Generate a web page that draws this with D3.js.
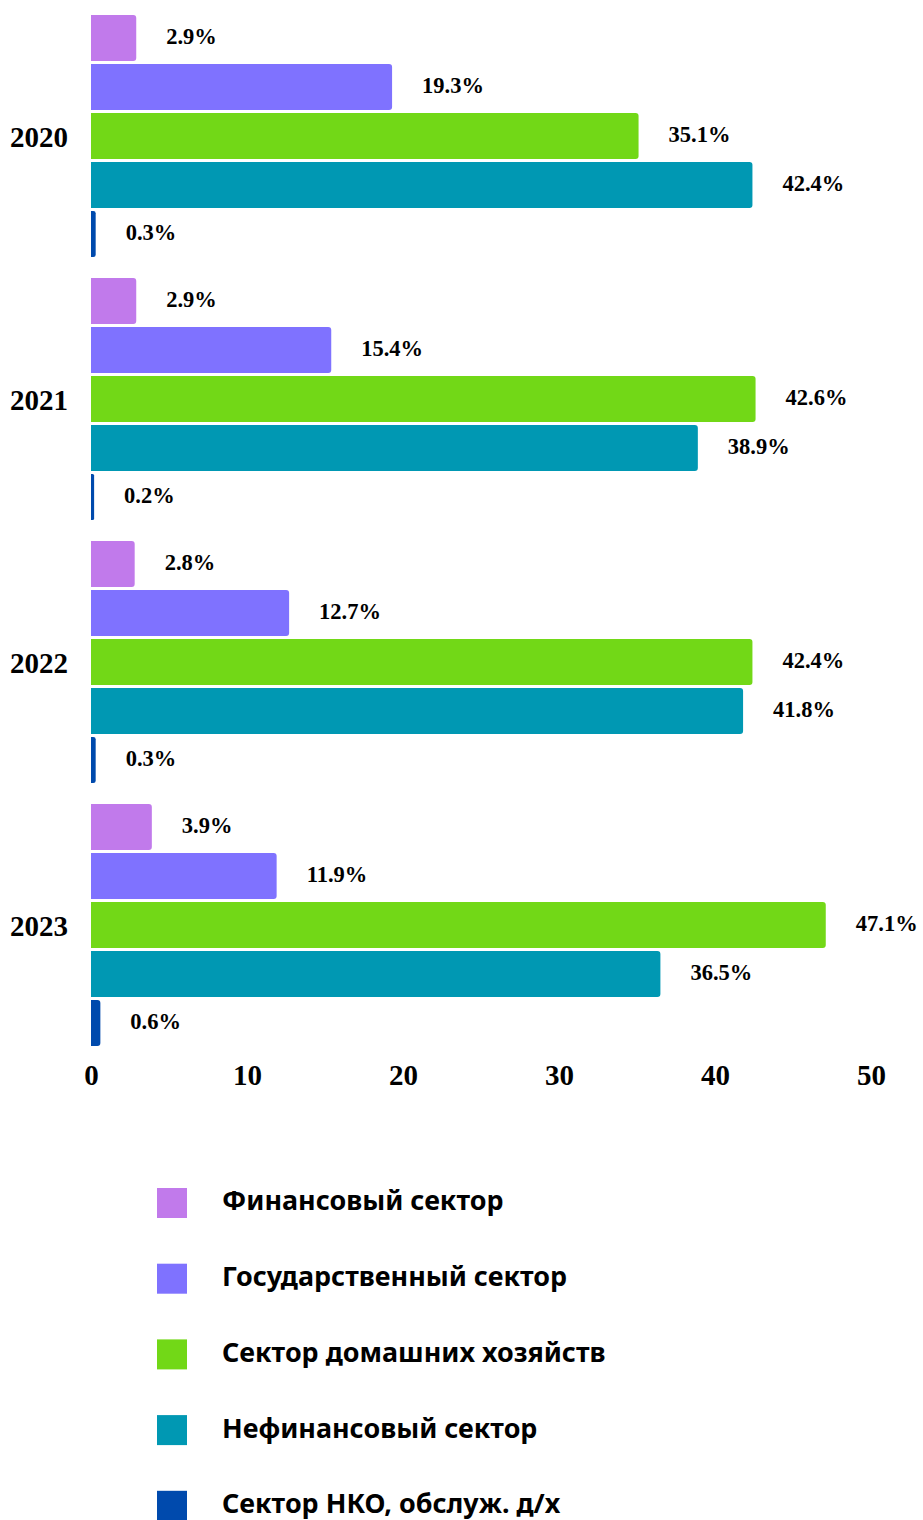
<!DOCTYPE html>
<html>
<head>
<meta charset="utf-8">
<script src="https://cdn.jsdelivr.net/npm/d3@7"></script>
<style>
  body { margin: 0; background: #fff; }
  .val { font-family: "Liberation Serif", "Times New Roman", serif; font-weight: bold; font-size: 22.5px; fill: #000; }
  .yr { font-family: "Liberation Serif", "Times New Roman", serif; font-weight: bold; font-size: 29px; fill: #000; }
  .tick text { font-family: "Liberation Serif", "Times New Roman", serif; font-weight: bold; font-size: 29px; fill: #000; }
  .leg { font-family: "Noto Sans", "Open Sans", sans-serif; font-weight: bold; font-size: 26.9px; fill: #000; }
</style>
</head>
<body>
<div id="chart"></div>
<script>
var years = ["2020", "2021", "2022", "2023"];
var sectors = ["Финансовый сектор", "Государственный сектор", "Сектор домашних хозяйств", "Нефинансовый сектор", "Сектор НКО, обслуж. д/х"];
var colors = ["#c17aeb", "#7f72ff", "#72d817", "#0098b3", "#004aad"];
// values per year, in sector order
var values2020 = [2.9, 19.3, 35.1, 42.4, 0.3];
var values2021 = [2.9, 15.4, 42.6, 38.9, 0.2];
var values2022 = [2.8, 12.7, 42.4, 41.8, 0.3];
var values2023 = [3.9, 11.9, 47.1, 36.5, 0.6];
var allValues = [values2020, values2021, values2022, values2023];
var xTicks = [0, 10, 20, 30, 40, 50];

var width = 923, height = 1520;

var svg = d3.select("#chart").append("svg")
  .attr("width", width)
  .attr("height", height);

var x = d3.scaleLinear().domain([0, 50]).range([91, 871]);

var y0 = d3.scaleBand()
  .domain(years)
  .range([4.5, 1056.5])
  .paddingInner(0.08)
  .paddingOuter(0.04);

var y1 = d3.scaleBand()
  .domain(sectors)
  .range([0, y0.bandwidth()])
  .paddingInner(0.06)
  .paddingOuter(0);

// bar with rounded right end
function barPath(x0, x1, yt, h) {
  var r = Math.min(3, (x1 - x0) / 2);
  var p = d3.path();
  p.moveTo(x0, yt);
  p.lineTo(x1 - r, yt);
  p.quadraticCurveTo(x1, yt, x1, yt + r);
  p.lineTo(x1, yt + h - r);
  p.quadraticCurveTo(x1, yt + h, x1 - r, yt + h);
  p.lineTo(x0, yt + h);
  p.closePath();
  return p.toString();
}

var groups = svg.selectAll(".grp")
  .data(years)
  .enter().append("g")
  .attr("class", "grp")
  .attr("transform", function(d) { return "translate(0," + y0(d) + ")"; });

groups.each(function(yr, gi) {
  var g = d3.select(this);
  var rows = sectors.map(function(s, i) {
    return { sector: s, value: allValues[gi][i], color: colors[i] };
  });

  g.selectAll("path")
    .data(rows)
    .enter().append("path")
    .attr("d", function(d) { return barPath(x(0), x(d.value), y1(d.sector), y1.bandwidth()); })
    .style("fill", function(d) { return d.color; });

  g.selectAll("text.val")
    .data(rows)
    .enter().append("text")
    .attr("class", "val")
    .attr("x", function(d) { return x(d.value) + 30; })
    .attr("y", function(d) { return y1(d.sector) + y1.bandwidth() / 2; })
    .attr("dy", "0.28em")
    .text(function(d) { return d.value.toFixed(1) + "%"; });
});

// year labels
svg.selectAll("text.yr")
  .data(years)
  .enter().append("text")
  .attr("class", "yr")
  .attr("text-anchor", "end")
  .attr("x", 68)
  .attr("y", function(d) { return y0(d) + y0.bandwidth() / 2 + 11; })
  .text(function(d) { return d; });

// x axis, labels only
var xAxis = d3.axisBottom(x).tickValues(xTicks).tickSize(0).tickPadding(0);
var axisG = svg.append("g")
  .attr("transform", "translate(0,1063)")
  .call(xAxis);
axisG.select(".domain").remove();
axisG.selectAll(".tick text").attr("dy", "0.75em");

// legend
var legend = svg.selectAll(".legrow")
  .data(sectors)
  .enter().append("g")
  .attr("class", "legrow")
  .attr("transform", function(d, i) { return "translate(157," + (1188 + i * 75.7) + ")"; });

legend.append("rect")
  .attr("width", 30)
  .attr("height", 30)
  .style("fill", function(d, i) { return colors[i]; });

legend.append("text")
  .attr("class", "leg")
  .attr("x", 65)
  .attr("y", 13)
  .attr("dy", "0.35em")
  .text(function(d) { return d; });
</script>
</body>
</html>
